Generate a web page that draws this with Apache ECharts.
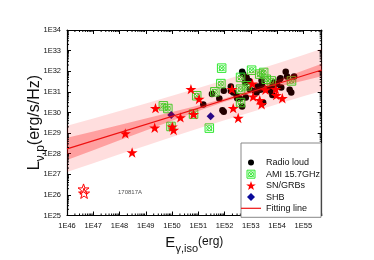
<!DOCTYPE html>
<html><head><meta charset="utf-8">
<script src="https://cdn.jsdelivr.net/npm/echarts/dist/echarts.min.js"></script>
<style>html,body{margin:0;padding:0;background:#fff}#c{width:374px;height:260px}</style>
</head><body><div id="c"></div>
<script>
// All values are log10 of the physical quantity (E in erg, L in erg/s/Hz)
const xTickDecades = [46,47,48,49,50,51,52,53,54,55];
const yTickDecades = [25,26,27,28,29,30,31,32,33,34];

const radioLoudLogE = [51.19,51.52,51.80,51.92,51.97,51.97,52.24,52.24,52.33,52.46,52.48,52.58,52.67,52.81,52.67,52.71,52.78,52.84,52.94,52.96,53.15,53.22,53.25,53.37,53.41,53.42,53.47,53.59,53.70,53.75,53.82,53.82,53.87,54.00,54.10,54.13,54.16,54.33,54.38,54.48,54.54,54.65];
const radioLoudLogL = [30.39,30.89,30.68,30.11,30.03,31.05,31.26,31.05,30.97,30.81,30.69,30.68,30.29,30.73,31.97,31.85,31.45,31.69,31.53,31.13,31.05,30.97,31.26,31.10,31.55,31.37,30.48,31.13,31.13,31.05,31.26,30.85,31.45,31.37,31.61,31.66,31.21,31.97,31.74,31.10,30.97,31.74];

const amiLogE = [49.67,49.84,49.96,50.82,50.94,51.42,51.63,51.86,51.89,52.61,52.61,52.61,52.86,53.03,53.34,53.49,53.59,53.78,54.55];
const amiLogL = [30.32,30.19,29.32,29.92,30.81,29.24,31.00,31.40,32.15,30.48,31.13,31.70,31.29,32.05,31.86,31.94,31.61,31.53,31.53];

const snLogE = [48.22,48.48,49.37,49.34,50.01,50.06,50.32,50.72,50.82,51.03,52.28,52.33,52.52,53.06,53.09,53.34,53.41,53.56,53.95,53.97,54.20];
const snLogL = [28.98,28.06,30.21,29.26,29.31,29.15,29.76,31.13,29.92,30.65,31.13,30.21,29.73,31.40,30.77,30.60,30.40,31.10,31.13,30.84,30.69];

const gw170817LogE = [46.63,46.65];
const gw170817LogL = [26.28,26.08];

const shbLogE = [49.97,51.47];
const shbLogL = [29.87,29.82];

const fitLogE = [46,55.7];
const fitLogL = [28.23,32.06];

const bandLogE = [46,47,48,49,50,51,52,53,54,55,55.7];
const innerUpper = [28.77,29.08,29.39,29.71,30.02,30.34,30.68,31.10,31.56,32.03,32.36];
const innerLower = [27.69,28.17,28.65,29.12,29.60,30.07,30.52,30.90,31.23,31.54,31.76];
const outerUpper = [29.35,29.71,30.07,30.44,30.81,31.19,31.58,31.98,32.38,32.79,33.09];
const outerLower = [27.11,27.54,27.97,28.39,28.81,29.22,29.62,30.01,30.40,30.78,31.04];

const annotLogE = [48.4];
const annotLogL = [26.1];
const annotText = ['170817A'];

const legendNames = ['Radio loud','AMI 15.7GHz','SN/GRBs','SHB','Fitting line'];

const X_MIN = 46, X_MAX = 55.7, Y_MIN = 25, Y_MAX = 34;
const FONT = 'Liberation Sans, Arial, Helvetica, sans-serif';
const GREEN = '#2ee82e';
const RED_LINE = '#ee1111';

const zip = (a,b) => a.map((v,i)=>[v,b[i]]);

// minor (log-spaced) ticks
const minorTicks = [];
xTickDecades.forEach(d => { for (let k=2;k<=9;k++){ const v=d+Math.log10(k); if (v<X_MAX) minorTicks.push([v,0]); } });
yTickDecades.slice(0,-1).forEach(d => { for (let k=2;k<=9;k++){ minorTicks.push([d+Math.log10(k),1]); } });

const STAR = 'path://M50,0 L61.8,35.1 L98.1,35.1 L68.8,56.8 L79.4,91 L50,70 L20.6,91 L31.2,56.8 L1.9,35.1 L38.2,35.1 Z';
const AMI = 'path://M0,0 L20,0 L20,20 L0,20 Z M3,3 L17,17 M17,3 L3,17 M16,10 A6,6 0 1,1 4,10 A6,6 0 1,1 16,10 Z';
const DIAMOND = 'path://M5,0 L10,5 L5,10 L0,5 Z';
// legend icons padded inside an 11x11 box (invisible move-to corners)
const L_DOT = 'path://M0,0 M11,11 M8.5,5.5 A3,3 0 1,1 2.5,5.5 A3,3 0 1,1 8.5,5.5 Z';
const L_AMI = 'path://M0,0 M11,11 M1.5,1.5 L9.5,1.5 L9.5,9.5 L1.5,9.5 Z M2.8,2.8 L8.2,8.2 M8.2,2.8 L2.8,8.2 M8,5.5 A2.5,2.5 0 1,1 3,5.5 A2.5,2.5 0 1,1 8,5.5 Z';
const L_STAR = 'path://M0,0 M11,11 M5.5,0.5 L6.68,4.0 L10.3,4.0 L7.38,6.18 L8.44,9.6 L5.5,7.5 L2.56,9.6 L3.62,6.18 L0.7,4.0 L4.32,4.0 Z';
const L_DIAMOND = 'path://M0,0 M11,11 M5.5,1.5 L9.5,5.5 L5.5,9.5 L1.5,5.5 Z';
const L_LINE = 'path://M0,0 M20,11 M0,4.9 L20,4.9 L20,6.1 L0,6.1 Z';

function bandRender(upper, lower, color){
  return function(params, api){
    const pts = [];
    for (let i=0;i<bandLogE.length;i++) pts.push(api.coord([bandLogE[i], upper[i]]));
    for (let i=bandLogE.length-1;i>=0;i--) pts.push(api.coord([bandLogE[i], lower[i]]));
    return {type:'polygon', shape:{points:pts}, style:{fill:color}};
  };
}

function axisCommon(pos, showLabel){
  return {
    type:'value', position:pos,
    axisLine:{show:true, onZero:false, lineStyle:{color:'#000', width:1.2}},
    axisTick:{show:true, inside:true, length:4, lineStyle:{color:'#000', width:1}},
    splitLine:{show:false},
    axisLabel:{show:showLabel, formatter:v=>'1E'+v, fontSize:7.5, color:'#111', fontFamily:FONT, margin:6, showMaxLabel:true}
  };
}

const chart = echarts.init(document.getElementById('c'), null, {renderer:'canvas'});
const xBottom = Object.assign(axisCommon('bottom', true), {
  min:X_MIN, max:X_MAX, interval:1,
  name:'{e|E}{s|γ,iso}{u|(erg)}', nameLocation:'middle', nameGap:20, nameMoveOverlap:false,
  nameTextStyle:{fontFamily:FONT, color:'#111', rich:{
    e:{fontSize:15, fontFamily:FONT, color:'#111', padding:[0,0,4,0], verticalAlign:'bottom'},
    s:{fontSize:11, fontFamily:FONT, color:'#111', verticalAlign:'bottom'},
    u:{fontSize:12, fontFamily:FONT, color:'#111', padding:[0,0,7,0], verticalAlign:'bottom'}
  }}
});
xBottom.axisLabel.showMaxLabel = false;
const xTop = Object.assign(axisCommon('top', false), {min:X_MIN, max:X_MAX, interval:1});
const yLeft = Object.assign(axisCommon('left', true), {
  min:Y_MIN, max:Y_MAX, interval:1,
  name:'{e|L}{s|ν,p}{u|(erg/s/Hz)}', nameLocation:'middle', nameGap:20, nameRotate:90, nameMoveOverlap:false,
  nameTextStyle:{fontFamily:FONT, color:'#111', rich:{
    e:{fontSize:17, fontFamily:FONT, color:'#111', padding:[0,0,4,0], verticalAlign:'bottom'},
    s:{fontSize:12, fontFamily:FONT, color:'#111', verticalAlign:'bottom'},
    u:{fontSize:16, fontFamily:FONT, color:'#111', padding:[0,0,4,0], verticalAlign:'bottom'}
  }}
});
const yRight = Object.assign(axisCommon('right', false), {min:Y_MIN, max:Y_MAX, interval:1});

chart.setOption({
  animation:false,
  backgroundColor:'#fff',
  textStyle:{fontFamily:FONT},
  grid:{left:67, top:30, right:52.3, bottom:44.5, containLabel:false, outerBoundsMode:'none'},
  xAxis:[xBottom, xTop],
  yAxis:[yLeft, yRight],
  legend:{
    data:[
      {name:legendNames[0], icon:L_DOT, itemStyle:{color:'#000', borderWidth:0}},
      {name:legendNames[1], icon:L_AMI, itemStyle:{color:'rgba(255,255,255,0)', borderColor:GREEN, borderWidth:1}},
      {name:legendNames[2], icon:L_STAR, itemStyle:{color:'#ff0000', borderWidth:0}},
      {name:legendNames[3], icon:L_DIAMOND, itemStyle:{color:'#0a0a9a', borderWidth:0}},
      {name:legendNames[4], icon:L_LINE, itemStyle:{color:RED_LINE, borderWidth:0}}
    ],
    orient:'vertical', left:241, top:143,
    padding:[14,1,3.5,0], itemGap:0.2, itemWidth:20, itemHeight:11,
    backgroundColor:'#fff', borderColor:'#888', borderWidth:1, borderRadius:0,
    textStyle:{fontSize:9, color:'#111', fontFamily:FONT},
    selectedMode:false, z:10
  },
  series:[
    {type:'scatter', name:legendNames[0], data:zip(radioLoudLogE, radioLoudLogL), symbol:'circle', symbolSize:6.5,
     itemStyle:{color:'#000', opacity:1}, z:2},
    {type:'scatter', name:legendNames[1], data:zip(amiLogE, amiLogL), symbol:AMI, symbolSize:8.5, symbolKeepAspect:true,
     itemStyle:{color:'rgba(255,255,255,0)', borderColor:GREEN, borderWidth:1, opacity:1}, z:2},
    {type:'scatter', name:legendNames[2], data:zip(snLogE, snLogL), symbol:STAR, symbolSize:11, symbolKeepAspect:true,
     itemStyle:{color:'#ff0000', opacity:1}, z:2},
    {type:'scatter', name:'170817A', data:zip(gw170817LogE, gw170817LogL), symbol:STAR, symbolSize:11, symbolKeepAspect:true,
     itemStyle:{color:'rgba(255,255,255,0)', borderColor:'#ff0000', borderWidth:1, opacity:1}, z:2},
    {type:'scatter', name:legendNames[3], data:zip(shbLogE, shbLogL), symbol:DIAMOND, symbolSize:8, symbolKeepAspect:true,
     itemStyle:{color:'#0a0a9a', opacity:1}, z:2},
    {type:'scatter', name:'annot', data:zip(annotLogE, annotLogL), symbol:'circle', symbolSize:0, silent:true,
     label:{show:true, position:'inside', formatter:p=>annotText[p.dataIndex], fontSize:6, color:'#222', fontFamily:FONT}, z:2},
    {type:'custom', name:'outerBand', data:[0], renderItem:bandRender(outerUpper, outerLower, 'rgba(255,0,0,0.13)'), silent:true, z:3, clip:true},
    {type:'custom', name:'innerBand', data:[0], renderItem:bandRender(innerUpper, innerLower, 'rgba(255,0,0,0.28)'), silent:true, z:3, clip:true},
    {type:'line', name:legendNames[4], data:zip(fitLogE, fitLogL), symbol:'none', showSymbol:false,
     lineStyle:{color:RED_LINE, width:1.2}, itemStyle:{color:RED_LINE}, z:4},
    {type:'custom', name:'minorTicks', data:minorTicks, silent:true, z:6, clip:false,
     renderItem:function(params, api){
       const v = api.value(0), kind = api.value(1);
       const st = {stroke:'#000', lineWidth:1};
       if (kind === 0){
         const b = api.coord([v, Y_MIN]), t = api.coord([v, Y_MAX]);
         return {type:'group', children:[
           {type:'line', shape:{x1:b[0],y1:b[1],x2:b[0],y2:b[1]-2}, style:st},
           {type:'line', shape:{x1:t[0],y1:t[1],x2:t[0],y2:t[1]+2}, style:st}]};
       }
       const l = api.coord([X_MIN, v]), r = api.coord([X_MAX, v]);
       return {type:'group', children:[
         {type:'line', shape:{x1:l[0],y1:l[1],x2:l[0]+2,y2:l[1]}, style:st},
         {type:'line', shape:{x1:r[0],y1:r[1],x2:r[0]-2,y2:r[1]}, style:st}]};
     }}
  ]
});
</script>
</body></html>
